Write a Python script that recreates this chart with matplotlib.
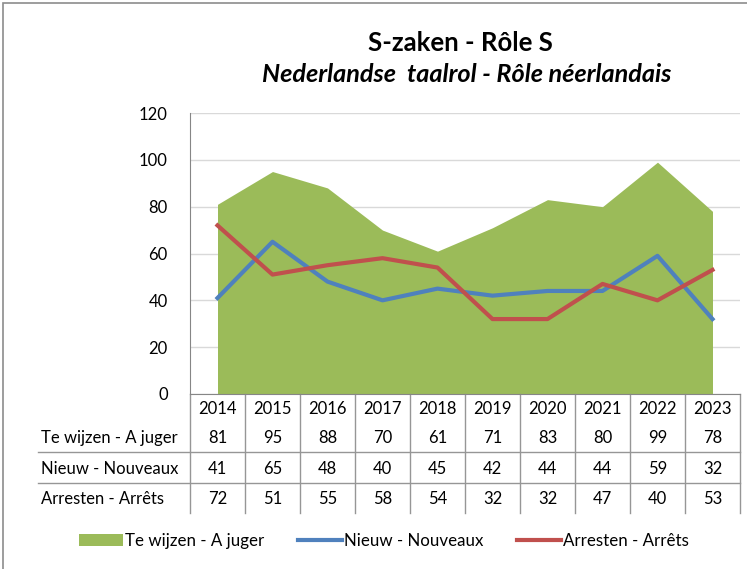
import numpy as np
import matplotlib
matplotlib.use("Agg")
import matplotlib.pyplot as plt
from matplotlib.transforms import blended_transform_factory
from matplotlib.patches import Patch, Rectangle
from matplotlib.lines import Line2D

plt.rcParams['font.family'] = ['Liberation Sans Narrow', 'Lato', 'DejaVu Sans']

years = ['2014', '2015', '2016', '2017', '2018', '2019', '2020', '2021', '2022', '2023']
te_wijzen = [81, 95, 88, 70, 61, 71, 83, 80, 99, 78]
nieuw = [41, 65, 48, 40, 45, 42, 44, 44, 59, 32]
arresten = [72, 51, 55, 58, 54, 32, 32, 47, 40, 53]
row_names = ['Te wijzen - A juger', 'Nieuw - Nouveaux', 'Arresten - Arrêts']

green = '#9BBB59'
blue = '#4F81BD'
red = '#C0504D'
W, H = 747, 569

fig = plt.figure(figsize=(W / 100, H / 100), dpi=100)

# outer chart frame (runs off the right/bottom edge)
fig.add_artist(Rectangle((3 / W, -0.05), 1.0, 1 - 3 / H + 0.05, transform=fig.transFigure,
                         fill=False, edgecolor='#8C8C8C', linewidth=1.2))

ax = fig.add_axes([190 / W, 1 - 394 / H, 550 / W, (394 - 113) / H])
x = np.arange(len(years))
ax.fill_between(x, 0, te_wijzen, color=green, linewidth=0, zorder=2)
ax.plot(x, nieuw, color=blue, linewidth=3, zorder=3)
ax.plot(x, arresten, color=red, linewidth=3, zorder=3)

ax.set_xlim(-0.5, len(years) - 0.5)
ax.set_ylim(0, 120)
ax.set_yticks(range(0, 121, 20))
ax.yaxis.grid(True, color='#D9D9D9', linewidth=1)
ax.set_axisbelow(True)
ax.tick_params(axis='y', length=0, labelsize=12, pad=16, colors='#000000')
ax.set_xticks([])
for s in ['top', 'right']:
    ax.spines[s].set_visible(False)
ax.spines['left'].set_color('#868686')
ax.spines['bottom'].set_color('#868686')

# data table under the axis
tr = blended_transform_factory(ax.transData, fig.transFigure)
fy = lambda py: 1 - py / H
for i, yr in enumerate(years):
    ax.text(i, fy(409), yr, transform=tr, ha='center', va='center', fontsize=12, clip_on=False)
for r, (name, vals) in enumerate(zip(row_names, [te_wijzen, nieuw, arresten])):
    yy = fy(438 + 30.5 * r)
    fig.text(41 / W, yy, name, ha='left', va='center', fontsize=12)
    for i, v in enumerate(vals):
        ax.text(i, yy, str(v), transform=tr, ha='center', va='center', fontsize=12, clip_on=False)

lc = '#969696'
for b in np.arange(len(years) + 1) - 0.5:
    ax.add_line(Line2D([b, b], [fy(394), fy(513)], transform=tr, color=lc, linewidth=1, clip_on=False))
for py in [452, 483]:
    fig.add_artist(Line2D([38 / W, 740 / W], [fy(py), fy(py)], transform=fig.transFigure,
                          color=lc, linewidth=1))

fig.text(460 / W, fy(43), 'S-zaken - Rôle S', ha='center', va='center', fontsize=18.5, fontweight='bold')
fig.text(467 / W, fy(75), 'Nederlandse  taalrol - Rôle néerlandais', ha='center', va='center',
         fontsize=18.2, fontweight='bold', fontstyle='italic')

handles = [Patch(facecolor=green, edgecolor='none'),
           Line2D([], [], color=blue, linewidth=3),
           Line2D([], [], color=red, linewidth=3)]
fig.legend(handles, row_names, loc='center', bbox_to_anchor=(384 / W, fy(541)), ncol=3,
           frameon=False, fontsize=12.2, handlelength=2.6, handletextpad=0.1, columnspacing=2.0)

fig.savefig('out.png', dpi=100)
